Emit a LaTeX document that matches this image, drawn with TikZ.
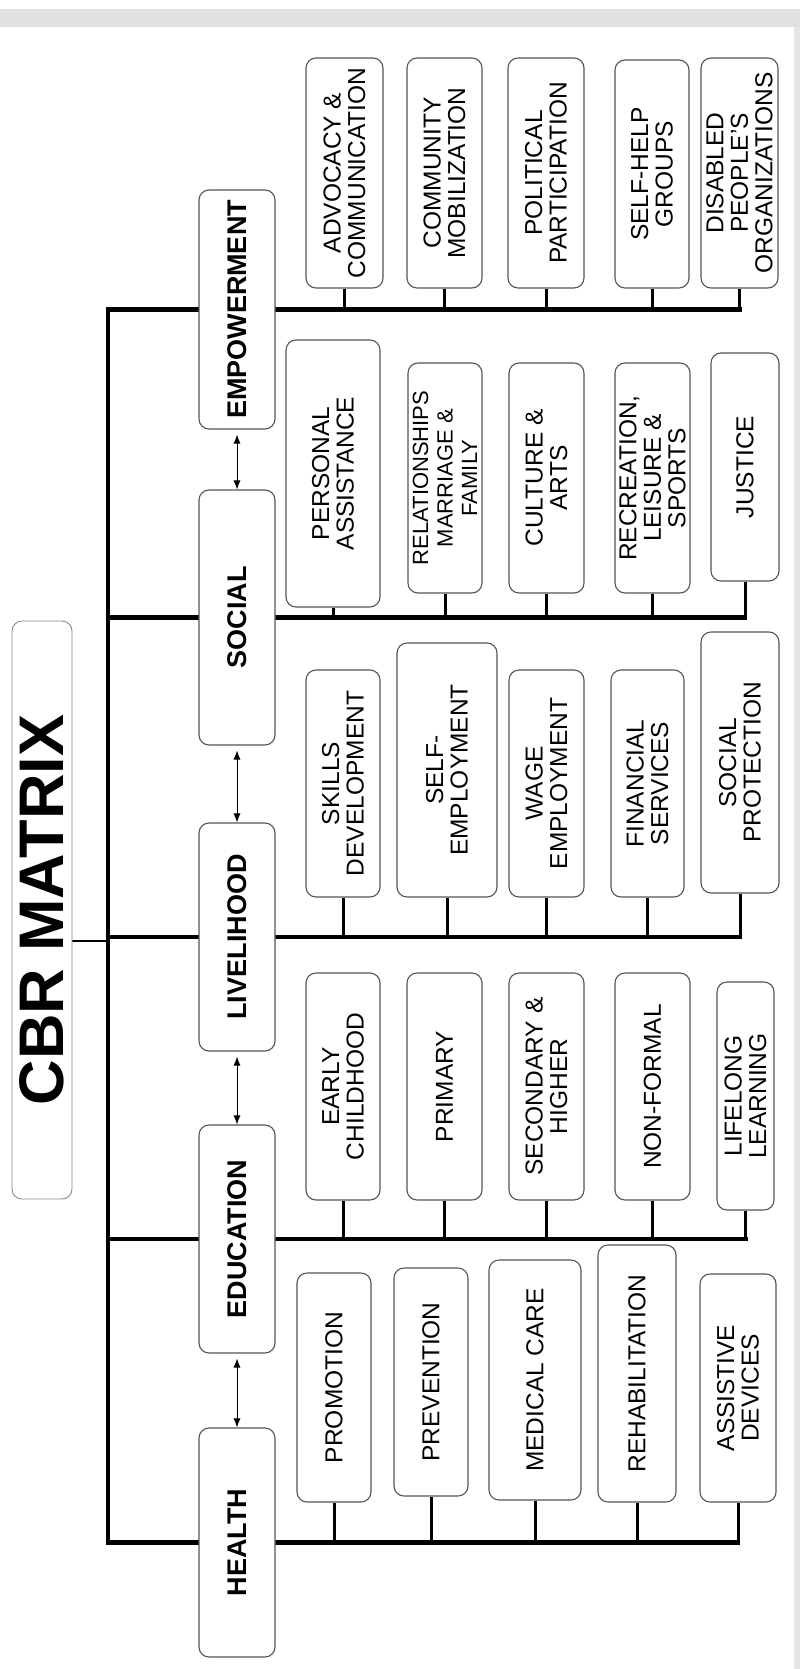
\documentclass[tikz,border=0pt]{standalone}
\usepackage{fontspec}
\setmainfont{Liberation Sans}
\usetikzlibrary{arrows.meta,backgrounds}

\definecolor{bandgray}{HTML}{E1E1E2}
\definecolor{edgegray}{HTML}{555555}
\definecolor{titleedge}{HTML}{8A8A8A}

\tikzset{
  boxbase/.style={draw=edgegray, line width=1.1pt, rounded corners=10pt,
    fill=white, rotate=90, align=center, inner sep=0pt, text=black},
  subbox/.style={boxbase,
    font=\fontsize{24.5}{24.5}\selectfont},
  catbox/.style={boxbase, minimum height=76pt,
    font=\fontsize{27}{27}\selectfont\bfseries},
  titlebox/.style={boxbase, draw=titleedge, line width=0.9pt,
    font=\fontsize{63}{63}\selectfont\bfseries},
  bar/.style={line width=4.5pt, line join=miter, line cap=rect},
  twig/.style={line width=3pt},
  stub/.style={line width=2.5pt},
  link/.style={line width=0.9pt,
    {Latex[length=9pt,width=7pt]}-{Latex[length=9pt,width=7pt]}},
}

% a sub-topic box: name, centre x, centre y, length along the text, depth, text
\newcommand\subnode[6]{%
  \node[subbox, minimum width=#4pt, minimum height=#5pt] (#1) at (#2,#3) {#6};}

\begin{document}
\begin{tikzpicture}[x=1pt, y=-1pt]
\useasboundingbox (0,0) rectangle (800,1669);

% title
\node[titlebox, minimum width=578pt, minimum height=60pt] (title) at (42,910) {CBR MATRIX};

% the five components
\node[catbox, minimum width=239pt] (emp) at (237,309.5) {EMPOWERMENT};
\node[catbox, minimum width=255pt] (soc) at (237,617.5) {SOCIAL};
\node[catbox, minimum width=228pt] (liv) at (237,937) {LIVELIHOOD};
\node[catbox, minimum width=228pt] (edu) at (237,1239) {EDUCATION};
\node[catbox, minimum width=229pt] (hea) at (237,1542.5) {HEALTH};

% empowerment
\subnode{a1}{344.5}{173}{230}{77}{ADVOCACY \&\\COMMUNICATION}
\subnode{a2}{444.5}{173}{230}{75}{COMMUNITY\\MOBILIZATION}
\subnode{a3}{546}{173}{230}{76}{POLITICAL\\PARTICIPATION}
\subnode{a4}{652}{174}{228}{74}{SELF-HELP\\GROUPS}
\subnode{a5}{739.5}{173}{230}{77}{DISABLED\\PEOPLE'S\\ORGANIZATIONS}

% social
\subnode{s1}{333}{473.5}{267}{94}{PERSONAL\\ASSISTANCE}
\node[subbox, minimum width=230pt, minimum height=74pt,
  font=\fontsize{22}{24.5}\selectfont] (s2) at (445,478) {RELATIONSHIPS\\MARRIAGE \&\\FAMILY};
\subnode{s3}{546.5}{478}{230}{75}{CULTURE \&\\ARTS}
\subnode{s4}{652.5}{478}{230}{75}{RECREATION,\\LEISURE \&\\SPORTS}
\subnode{s5}{745}{467}{228}{68}{JUSTICE}

% livelihood
\subnode{l1}{343}{783.5}{227}{74}{SKILLS\\DEVELOPMENT}
\subnode{l2}{447}{770}{254}{100}{SELF-\\EMPLOYMENT}
\subnode{l3}{546.5}{783.5}{227}{75}{WAGE\\EMPLOYMENT}
\subnode{l4}{647.5}{783.5}{227}{73}{FINANCIAL\\SERVICES}
\subnode{l5}{740}{762.5}{261}{78}{SOCIAL\\PROTECTION}

% education
\subnode{e1}{343}{1086.5}{227}{74}{EARLY\\CHILDHOOD}
\subnode{e2}{444.5}{1086.5}{227}{75}{PRIMARY}
\subnode{e3}{546.5}{1086.5}{227}{75}{SECONDARY \&\\HIGHER}
\subnode{e4}{652.5}{1086.5}{227}{75}{NON-FORMAL}
\subnode{e5}{745.5}{1096}{228}{57}{LIFELONG\\LEARNING}

% health
\subnode{h1}{334}{1387.5}{229}{74}{PROMOTION}
\subnode{h2}{431}{1382}{228}{74}{PREVENTION}
\subnode{h3}{535}{1380}{240}{92}{MEDICAL CARE}
\subnode{h4}{637}{1373.5}{257}{78}{REHABILITATION}
\subnode{h5}{738}{1388}{228}{76}{ASSISTIVE\\DEVICES}

% page ground, then the spine and branch bars, all behind the boxes
\coordinate (spx) at (108,0);
\coordinate (tj) at (108,941);
\begin{scope}[on background layer]
  \fill[white] (0,0) rectangle (800,1669);
  \fill[bandgray] (0,9) rectangle (800,27);
  \fill[bandgray!85] (794,27) rectangle (800,1669);
  \draw[bar] (a5.west |- emp.center) -- (emp.center -| spx)
    -- (hea.center -| spx) -- (h5.west |- hea.center);
  \draw[bar] (soc.center -| spx) -- (s5.west |- soc.center);
  \draw[bar] (liv.center -| spx) -- (l5.west |- liv.center);
  \draw[bar] (edu.center -| spx) -- (e5.west |- edu.center);
  \foreach \n in {a1,a2,a3,a4,a5} \draw[twig] (\n.west) -- (\n.west |- emp.center);
  \foreach \n in {s1,s2,s3,s4,s5} \draw[twig] (\n.west) -- (\n.west |- soc.center);
  \foreach \n in {l1,l2,l3,l4,l5} \draw[twig] (\n.west) -- (\n.west |- liv.center);
  \foreach \n in {e1,e2,e3,e4,e5} \draw[twig] (\n.west) -- (\n.west |- edu.center);
  \foreach \n in {h1,h2,h3,h4,h5} \draw[twig] (\n.west) -- (\n.west |- hea.center);
  \draw[stub] (tj -| title.south) -- (tj);
\end{scope}

% two-way links between neighbouring components
\draw[link, shorten <=5pt] (emp.west) -- (soc.east);
\draw[link, shorten <=5pt] (soc.west) -- (liv.east);
\draw[link, shorten <=5pt] (liv.west) -- (edu.east);
\draw[link, shorten <=5pt] (edu.west) -- (hea.east);
\end{tikzpicture}
\end{document}
